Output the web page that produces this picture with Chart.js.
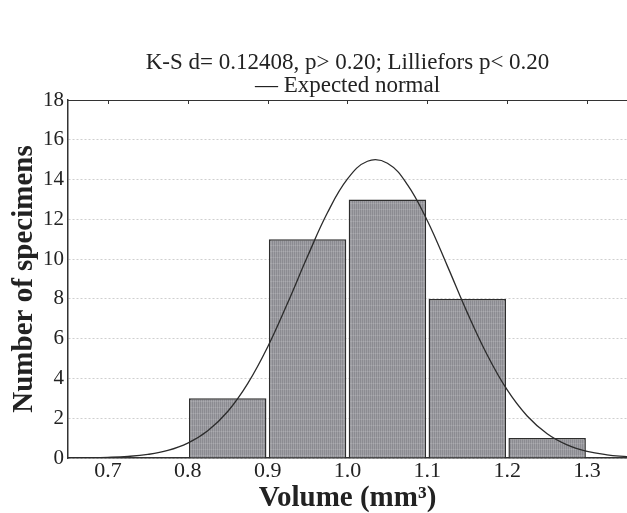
<!DOCTYPE html>
<html lang="en">
<head>
    <meta charset="UTF-8">
    <title>Volume histogram</title>
    <script src="https://cdn.jsdelivr.net/npm/chart.js"></script>
    <style>
        body { margin: 0; background: #fff; }
        .chart-container { width: 627px; height: 513px; }
    </style>
</head>
<body>
    <div class="chart-container">
        <canvas id="histChart"></canvas>
    </div>

    <script>
        // histogram bins (centres) and counts
        const binCenters = [0.85, 0.95, 1.05, 1.15, 1.25];
        const binCounts = [3, 11, 13, 8, 1];

        // expected normal curve
        const curveX = [0.65, 0.675, 0.70, 0.725, 0.75, 0.775, 0.80, 0.825, 0.85, 0.875,
                        0.90, 0.925, 0.95, 0.975, 1.00, 1.025, 1.05, 1.075, 1.10, 1.125,
                        1.15, 1.175, 1.20, 1.225, 1.25, 1.275, 1.30, 1.325, 1.35];
        const curveY = [0.005, 0.013, 0.034, 0.08, 0.18, 0.38, 0.75, 1.37, 2.34, 3.74,
                        5.58, 7.79, 10.14, 12.34, 14.03, 14.92, 14.82, 13.75, 11.93, 9.66,
                        7.31, 5.18, 3.42, 2.11, 1.22, 0.66, 0.33, 0.16, 0.07];

        const xTicks = [0.7, 0.8, 0.9, 1.0, 1.1, 1.2, 1.3];
        const yTicks = [0, 2, 4, 6, 8, 10, 12, 14, 16, 18];

        // hatched grey fill like the original bars
        function makePattern() {
            const c = document.createElement('canvas');
            c.width = 4; c.height = 6;
            const g = c.getContext('2d');
            g.fillStyle = '#a0a0a5';
            g.fillRect(0, 0, 4, 6);
            g.fillStyle = '#8b8b91';
            g.fillRect(0, 0, 1, 6);
            g.fillRect(2, 0, 1, 6);
            g.fillStyle = 'rgba(255,255,255,0.12)';
            g.fillRect(0, 5, 4, 1);
            return g.createPattern(c, 'repeat');
        }

        // top frame line with inward ticks
        const frame = {
            id: 'frame',
            afterDraw(chart) {
                const { ctx, chartArea } = chart;
                const x = chart.scales.x;
                ctx.save();
                ctx.strokeStyle = '#333';
                ctx.lineWidth = 1;
                ctx.beginPath();
                ctx.moveTo(chartArea.left, chartArea.top + 0.5);
                ctx.lineTo(chartArea.right, chartArea.top + 0.5);
                xTicks.forEach(v => {
                    const px = Math.round(x.getPixelForValue(v)) + 0.5;
                    ctx.moveTo(px, chartArea.top);
                    ctx.lineTo(px, chartArea.top + 4);
                });
                ctx.stroke();
                ctx.restore();
            }
        };

        const ctx = document.getElementById('histChart').getContext('2d');
        new Chart(ctx, {
            data: {
                datasets: [
                    {
                        type: 'line',
                        data: curveX.map((x, i) => ({ x: x, y: curveY[i] })),
                        borderColor: '#2b2b2b',
                        borderWidth: 1.3,
                        pointRadius: 0,
                        tension: 0.4,
                        fill: false,
                        order: 0
                    },
                    {
                        type: 'bar',
                        data: binCenters.map((x, i) => ({ x: x, y: binCounts[i] })),
                        backgroundColor: makePattern(),
                        borderColor: '#2e2e2e',
                        borderWidth: 1.5,
                        barPercentage: 0.97,
                        categoryPercentage: 1,
                        order: 1
                    }
                ]
            },
            options: {
                responsive: true,
                maintainAspectRatio: false,
                animation: false,
                layout: { padding: { left: 10, right: 0, bottom: 0 } },
                plugins: {
                    legend: { display: false },
                    tooltip: { enabled: false },
                    title: {
                        display: true,
                        fullSize: false,
                        text: ['K-S d= 0.12408, p> 0.20; Lilliefors p< 0.20', '\u2014 Expected normal'],
                        color: '#222',
                        font: { family: 'Liberation Serif', size: 23, weight: 'normal', lineHeight: 1.0 },
                        padding: { top: 51, bottom: 3 }
                    }
                },
                scales: {
                    x: {
                        type: 'linear',
                        offset: false,
                        min: 0.65,
                        max: 1.35,
                        afterBuildTicks: axis => { axis.ticks = xTicks.map(v => ({ value: v })); },
                        grid: { display: false, drawTicks: false },
                        border: { color: '#333', width: 1.5 },
                        ticks: {
                            color: '#222',
                            font: { family: 'Liberation Serif', size: 22, lineHeight: 1.0 },
                            padding: 2,
                            maxRotation: 0,
                            callback: v => v.toFixed(1)
                        },
                        title: {
                            display: true,
                            text: 'Volume (mm\u00b3)',
                            color: '#222',
                            font: { family: 'Liberation Serif', size: 29, weight: 'bold', lineHeight: 1.0 },
                            padding: { top: 0, bottom: 0 }
                        }
                    },
                    y: {
                        min: 0,
                        max: 18,
                        afterBuildTicks: axis => { axis.ticks = yTicks.map(v => ({ value: v })); },
                        grid: {
                            color: '#cfcfcf',
                            drawTicks: false
                        },
                        border: { color: '#333', width: 1.5, dash: [2, 2] },
                        ticks: {
                            color: '#222',
                            font: { family: 'Liberation Serif', size: 21 },
                            padding: 4
                        },
                        title: {
                            display: true,
                            text: 'Number of specimens',
                            color: '#222',
                            font: { family: 'Liberation Serif', size: 29, weight: 'bold', lineHeight: 1.0 },
                            padding: { top: 0, bottom: 0 }
                        }
                    }
                }
            },
            plugins: [frame]
        });
    </script>
</body>
</html>
